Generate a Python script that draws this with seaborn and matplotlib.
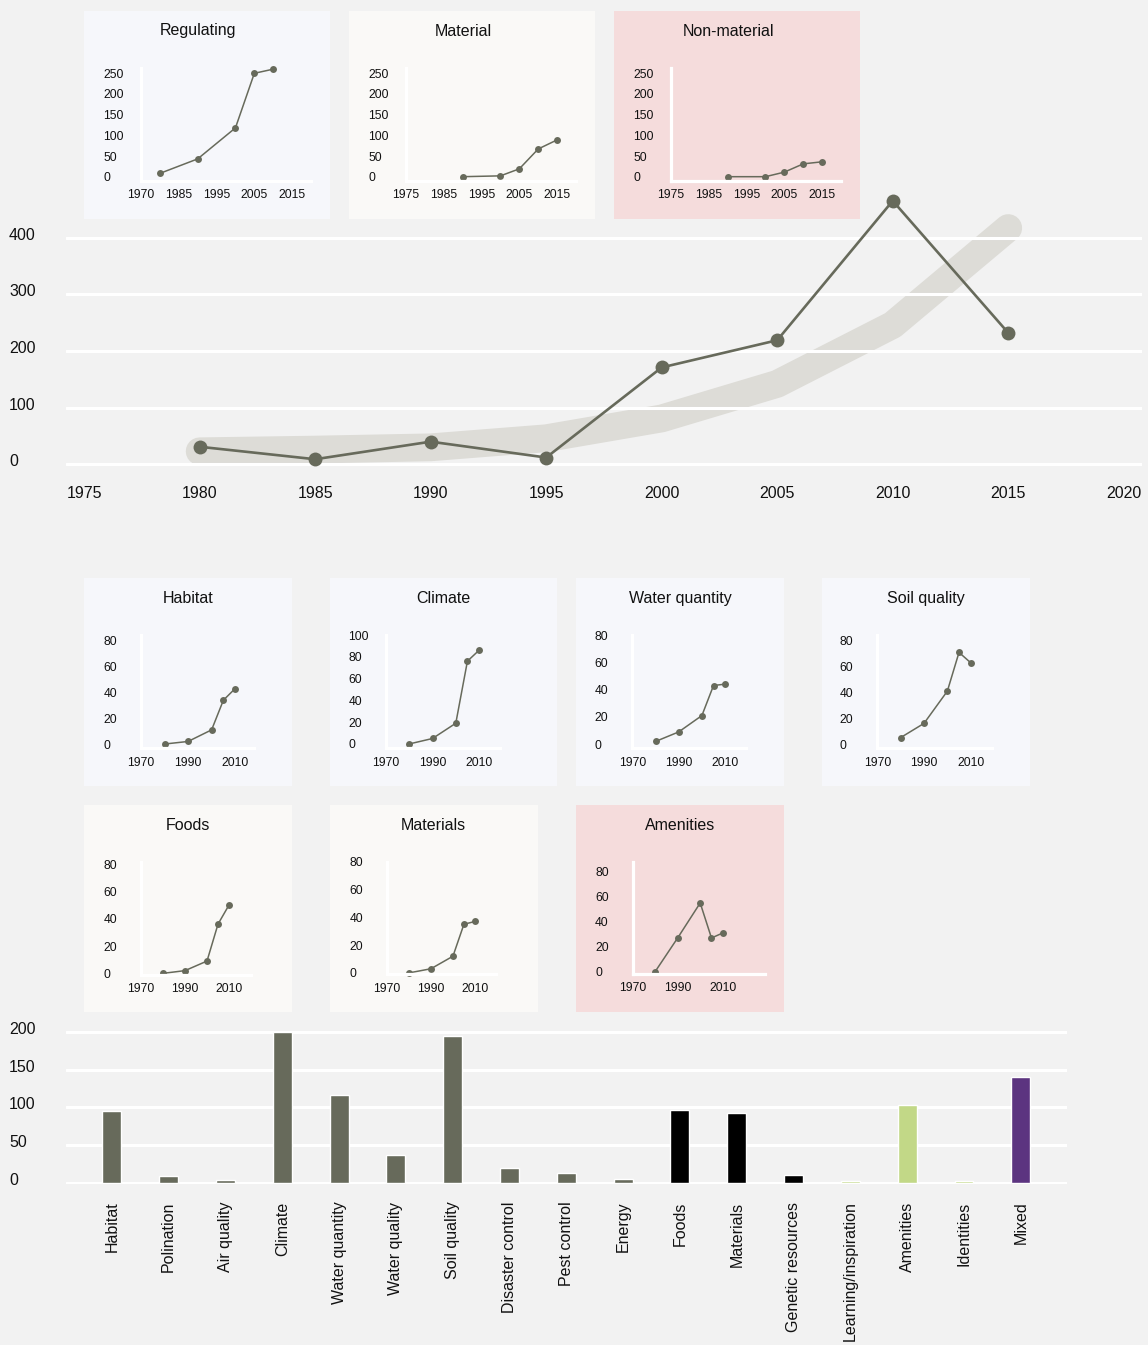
import matplotlib
matplotlib.use("Agg")
import matplotlib.pyplot as plt
from matplotlib.transforms import ScaledTranslation
import seaborn as sns
import pandas as pd

# ---- data ----
main_years = [1980, 1985, 1990, 1995, 2000, 2005, 2010, 2015]
main_counts = [31, 9, 40, 12, 171, 219, 465, 232]
trend_counts = [23, 26, 30, 46, 81, 142, 246, 417]

reg_years = [1980, 1990, 2000, 2005, 2010]
reg_counts = [8, 43, 118, 250, 260]
mat_years = [1990, 2000, 2005, 2010, 2015]
mat_counts = [0, 2, 19, 67, 89]
nonmat_years = [1990, 2000, 2005, 2010, 2015]
nonmat_counts = [0, 0, 11, 31, 36]
top_xticks = [1975, 1985, 1995, 2005, 2015]
reg_xticklabels = ["1970", "1985", "1995", "2005", "2015"]
top_xticklabels = ["1975", "1985", "1995", "2005", "2015"]
top_yticks = [0, 50, 100, 150, 200, 250]

small_years = [1980, 1990, 2000, 2005, 2010]
habitat = [0, 2, 11, 34, 43]
climate = [0, 5, 19, 76, 86]
water_quantity = [2, 9, 21, 43, 44]
soil_quality = [5, 16, 41, 71, 63]
foods = [0, 2, 9, 36, 50]
materials = [0, 3, 12, 35, 37]
amenities = [0, 27, 55, 27, 31]
small_xticks = [1970, 1990, 2010]

services = ["Habitat", "Polination", "Air quality", "Climate", "Water quantity",
            "Water quality", "Soil quality", "Disaster control", "Pest control",
            "Energy", "Foods", "Materials", "Genetic resources",
            "Learning/inspiration", "Amenities", "Identities", "Mixed"]
service_counts = [95, 9, 4, 200, 116, 37, 194, 19, 13, 5, 97, 92, 10, 2, 103, 2, 140]
service_group = ["Regulating"] * 10 + ["Material"] * 3 + ["Non-material"] * 3 + ["Mixed"]

# ---- style ----
W, H = 1148, 1345
BG = "#f2f2f2"
OLIVE = "#676a5b"
BAND = "#dddcd7"
BLUE_BG = "#f6f7fb"
CREAM_BG = "#faf9f7"
PINK_BG = "#f5dcdc"
TXT = "#111111"
group_colors = {"Regulating": OLIVE, "Material": "#000000",
                "Non-material": "#c2d887", "Mixed": "#5c3480"}

sns.set_style("white")
plt.rcParams["font.family"] = ["Liberation Sans", "DejaVu Sans"]
plt.rcParams["text.color"] = TXT
plt.rcParams["xtick.color"] = TXT
plt.rcParams["ytick.color"] = TXT

fig = plt.figure(figsize=(W / 100, H / 100), dpi=100, facecolor=BG)


def px_axes(left, top, width, height, **kw):
    return fig.add_axes([left / W, 1 - (top + height) / H, width / W, height / H], **kw)


def lift_yticklabels(ax, px):
    for lbl in ax.get_yticklabels():
        lbl.set_transform(lbl.get_transform() + ScaledTranslation(0, px / 100, fig.dpi_scale_trans))


def panel(box, color, title, title_x):
    left, top, width, height = box
    bg = px_axes(left, top, width, height, facecolor=color)
    bg.set_xticks([])
    bg.set_yticks([])
    for s in bg.spines.values():
        s.set_visible(False)
    fig.text(title_x / W, 1 - (top + 20) / H, title, ha="center", va="center", fontsize=11.5)


def inset(box, years, counts, xlim, ylim, xticks, xticklabels, yticks):
    ax = px_axes(*box, facecolor="none")
    sns.lineplot(x=years, y=counts, ax=ax, color=OLIVE, linewidth=1.1,
                 marker="o", markersize=5, markeredgewidth=0, clip_on=False)
    ax.set_xlim(xlim)
    ax.set_ylim(ylim)
    ax.set_xticks(xticks, xticklabels)
    ax.set_yticks(yticks)
    ax.tick_params(length=0, labelsize=8.7)
    ax.tick_params(axis="x", pad=6)
    ax.tick_params(axis="y", pad=27)
    plt.setp(ax.get_yticklabels(), ha="left")
    for side in ["top", "right"]:
        ax.spines[side].set_visible(False)
    for side in ["left", "bottom"]:
        ax.spines[side].set_color("white")
        ax.spines[side].set_linewidth(2.3)
    ax.set_xlabel("")
    ax.set_ylabel("")
    return ax


# ---- top insets ----
top_sets = [
    ("Regulating", BLUE_BG, reg_years, reg_counts, reg_xticklabels),
    ("Material", CREAM_BG, mat_years, mat_counts, top_xticklabels),
    ("Non-material", PINK_BG, nonmat_years, nonmat_counts, top_xticklabels),
]
for i, (title, color, yrs, cnts, xlabels) in enumerate(top_sets):
    left = 84 + 265 * i
    panel((left, 11, 246, 208), color, title, left + 114)
    inset((left + 57, 68, 170, 112.7), yrs, cnts, (1975, 2020), (-9.7, 262.8),
          top_xticks, xlabels, top_yticks)

# ---- main chart ----
ax = px_axes(65.9, 198, 1076.1, 272, facecolor="none")
sns.lineplot(x=main_years, y=trend_counts, ax=ax, color=BAND, linewidth=20,
             solid_capstyle="round", solid_joinstyle="round", zorder=0.3)
sns.lineplot(x=main_years, y=main_counts, ax=ax, color=OLIVE, linewidth=1.9,
             marker="o", markersize=10, markeredgewidth=0, zorder=3, clip_on=False)
ax.set_xlim(1974.21, 2020.79)
ax.set_ylim(-10, 470)
ax.set_xticks(range(1975, 2021, 5))
ax.set_yticks([0, 100, 200, 300, 400])
ax.set_axisbelow(True)
ax.yaxis.grid(True, color="white", linewidth=2.2)
ax.xaxis.grid(False)
for s in ax.spines.values():
    s.set_visible(False)
ax.tick_params(length=0, labelsize=11.5)
ax.tick_params(axis="x", pad=11.4)
ax.tick_params(axis="y", pad=41)
plt.setp(ax.get_yticklabels(), ha="left")
ax.set_xlabel("")
ax.set_ylabel("")
lift_yticklabels(ax, 4)

# ---- small multiples ----
small_sets = [
    ("Habitat", BLUE_BG, (84, 578, 208, 208), (141, 635, 113, 113.3), habitat, 2018, (-3.3, 84.5), [0, 20, 40, 60, 80]),
    ("Climate", BLUE_BG, (330, 578, 227, 208), (386, 635, 114, 113.3), climate, 2019, (-4, 100), [0, 20, 40, 60, 80, 100]),
    ("Water quantity", BLUE_BG, (576, 578, 208, 208), (632.3, 635, 113.7, 113.3), water_quantity, 2019, (-3, 80), [0, 20, 40, 60, 80]),
    ("Soil quality", BLUE_BG, (822, 578, 208, 208), (877.3, 635, 114.4, 113.3), soil_quality, 2019, (-3.3, 84.5), [0, 20, 40, 60, 80]),
    ("Foods", CREAM_BG, (84, 805, 208, 207), (141, 861.7, 110, 113.3), foods, 2020, (-1.2, 81.7), [0, 20, 40, 60, 80]),
    ("Materials", CREAM_BG, (330, 805, 207.5, 207), (387, 861.7, 108.8, 112.6), materials, 2019.5, (-1, 80), [0, 20, 40, 60, 80]),
    ("Amenities", PINK_BG, (576, 805, 207.5, 207), (632.5, 861.7, 132, 112.3), amenities, 2028.5, (-1.8, 88), [0, 20, 40, 60, 80]),
]
for title, color, pbox, ibox, cnts, xmax, ylim, yticks in small_sets:
    panel(pbox, color, title, pbox[0] + pbox[2] / 2)
    inset(ibox, small_years, cnts, (1970, xmax), ylim,
          small_xticks, [str(t) for t in small_xticks], yticks)

# ---- bar chart ----
df = pd.DataFrame({"service": services, "count": service_counts, "group": service_group})
palette = {s: group_colors[g] for s, g in zip(services, service_group)}
axb = px_axes(65.9, 1031, 1001.5, 152.5, facecolor="none")
sns.barplot(data=df, x="service", y="count", hue="service", palette=palette,
            width=0.334, saturation=1, legend=False, ax=axb)
axb.set_xlim(-0.81, 16.82)
axb.set_ylim(-1, 201)
axb.set_yticks([0, 50, 100, 150, 200])
axb.set_axisbelow(True)
axb.yaxis.grid(True, color="white", linewidth=2.2)
axb.xaxis.grid(False)
for s in axb.spines.values():
    s.set_visible(False)
axb.tick_params(length=0, labelsize=11.5)
axb.tick_params(axis="x", rotation=90, pad=13)
axb.tick_params(axis="y", pad=41)
plt.setp(axb.get_yticklabels(), ha="left")
axb.set_xlabel("")
axb.set_ylabel("")
lift_yticklabels(axb, 4)

fig.savefig("out.png", dpi=100, facecolor=BG)
